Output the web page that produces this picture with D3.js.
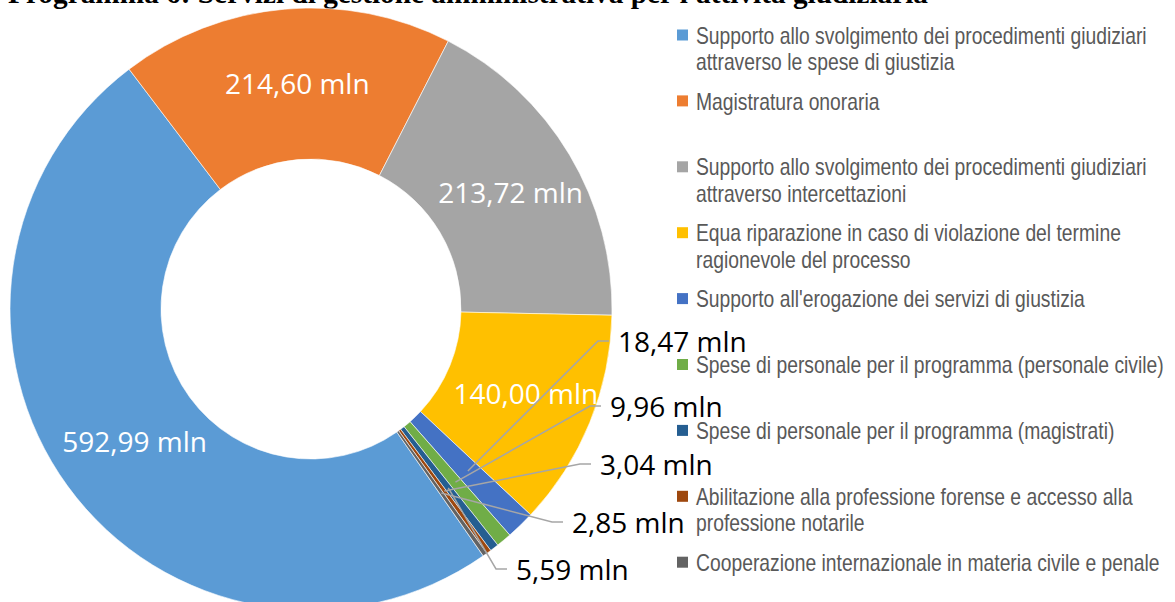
<!DOCTYPE html>
<html>
<head>
<meta charset="utf-8">
<script src="https://cdn.jsdelivr.net/npm/d3@7"></script>
<style>
  body { margin: 0; background: #fff; }
  svg { display: block; }
</style>
</head>
<body>
<svg id="chart" width="1175" height="602"></svg>
<script>
// data
var categories = [
  "Supporto allo svolgimento dei procedimenti giudiziari attraverso le spese di giustizia",
  "Magistratura onoraria",
  "Supporto allo svolgimento dei procedimenti giudiziari attraverso intercettazioni",
  "Equa riparazione in caso di violazione del termine ragionevole del processo",
  "Supporto all'erogazione dei servizi di giustizia",
  "Spese di personale per il programma (personale civile)",
  "Spese di personale per il programma (magistrati)",
  "Abilitazione alla professione forense e accesso alla professione notarile",
  "Cooperazione internazionale in materia civile e penale"
];
var values = [592.99, 214.60, 213.72, 140.00, 18.47, 9.96, 5.59, 3.04, 2.85];
var colors = ["#5B9BD5", "#ED7D31", "#A5A5A5", "#FFC000", "#4472C4",
              "#70AD47", "#255E91", "#9E480E", "#636363"];
var title = "Programma 6: Servizi di gestione amministrativa per l'attività giudiziaria";

// layout
var cx = 311, cy = 309;
var outerR = 301, innerR = 150;
var startAngle = 145.1 * Math.PI / 180;
// label positions for the small slices (left x, baseline y), by slice index
var outsidePos = {4: [618, 352], 5: [610, 417], 6: [516, 580], 7: [600, 475], 8: [572, 533]};

var it = d3.formatLocale({decimal: ",", thousands: ".", grouping: [3], currency: ["€", ""]});
var fmt = it.format(".2f");

var svg = d3.select("#chart");

svg.append("text")
  .attr("x", 8)
  .attr("y", 2.5)
  .attr("font-family", "Liberation Serif, Times New Roman, serif")
  .attr("font-weight", "bold")
  .attr("font-size", 29.3)
  .attr("fill", "#000")
  .text(title);

var pie = d3.pie()
  .sort(null)
  .startAngle(startAngle)
  .endAngle(startAngle + 2 * Math.PI);

var arc = d3.arc().innerRadius(innerR).outerRadius(outerR);
var arcs = pie(values);

var g = svg.append("g").attr("transform", "translate(" + cx + "," + cy + ")");

g.selectAll("path.slice")
  .data(arcs)
  .enter()
  .append("path")
  .attr("class", "slice")
  .attr("d", arc)
  .attr("fill", function(d, i) { return colors[i]; })
  .attr("stroke", "#fff")
  .attr("stroke-width", 0.6);

var labelFont = "Open Sans, Noto Sans, sans-serif";

// labels inside the big slices
g.selectAll("text.inside")
  .data(arcs.filter(function(d) { return d.index < 4; }))
  .enter()
  .append("text")
  .attr("class", "inside")
  .attr("transform", function(d) {
    var c = arc.centroid(d);
    return "translate(" + (c[0] + 6) + "," + c[1] + ")";
  })
  .attr("text-anchor", "middle")
  .attr("dy", "0.36em")
  .attr("font-family", labelFont)
  .attr("font-size", 28)
  .attr("fill", "#fff")
  .text(function(d) { return fmt(d.value) + " mln"; });

// leader lines and labels for the small slices
var small = arcs.filter(function(d) { return d.index >= 4; });

g.selectAll("polyline.leader")
  .data(small)
  .enter()
  .append("polyline")
  .attr("class", "leader")
  .attr("points", function(d) {
    var p = outsidePos[d.index];
    var x = p[0] - cx, y = p[1] - cy - 11;
    var c = arc.centroid(d);
    return [[x - 9, y], [x - 20, y], c].join(" ");
  })
  .attr("fill", "none")
  .attr("stroke", "#A6A6A6")
  .attr("stroke-width", 1.5);

g.selectAll("text.outside")
  .data(small)
  .enter()
  .append("text")
  .attr("class", "outside")
  .attr("x", function(d) { return outsidePos[d.index][0] - cx; })
  .attr("y", function(d) { return outsidePos[d.index][1] - cy; })
  .attr("font-family", labelFont)
  .attr("font-size", 28)
  .attr("fill", "#000")
  .text(function(d) { return fmt(d.value) + " mln"; });

// legend (narrow look: Arial-metric font squeezed horizontally)
var legX = 677, legY = 35, legStep = 65.9, lineH = 26.4, maxW = 480, squeeze = 0.84;
var textX = legX + 19;
var legend = svg.append("g");

categories.forEach(function(name, i) {
  var y = legY + i * legStep;
  legend.append("rect")
    .attr("x", legX)
    .attr("y", y - 5.5)
    .attr("width", 11)
    .attr("height", 11)
    .attr("fill", colors[i]);

  var t = legend.append("text")
    .attr("transform", "translate(" + textX + "," + (y + 8.6) + ") scale(" + squeeze + ",1)")
    .attr("font-family", "Liberation Sans, Arial, sans-serif")
    .attr("font-size", 23)
    .attr("fill", "#595959");

  // wrap words onto lines
  var words = name.split(" ");
  var line = [];
  var tspan = t.append("tspan").attr("x", 0).attr("dy", 0);
  words.forEach(function(w) {
    line.push(w);
    tspan.text(line.join(" "));
    if (tspan.node().getComputedTextLength() * squeeze > maxW && line.length > 1) {
      line.pop();
      tspan.text(line.join(" "));
      line = [w];
      tspan = t.append("tspan").attr("x", 0).attr("dy", lineH).text(w);
    }
  });
});
</script>
</body>
</html>
